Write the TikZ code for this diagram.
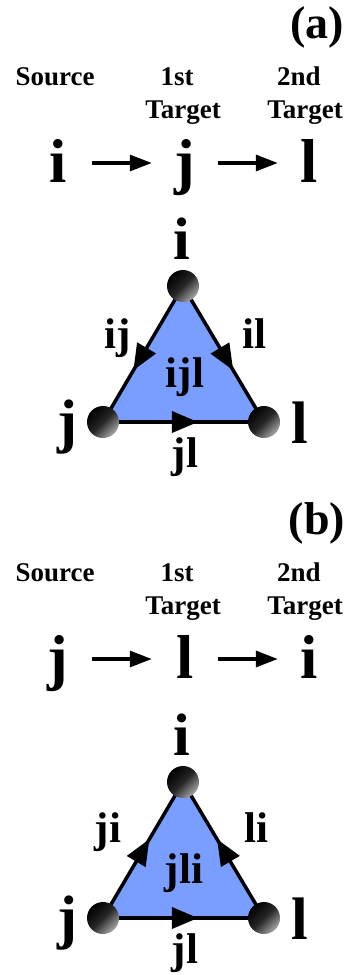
\documentclass[tikz,border=0pt]{standalone}
\usepackage{fontspec}
\setmainfont{Liberation Serif}
\usetikzlibrary{arrows.meta,decorations.markings,backgrounds}
\definecolor{triblue}{RGB}{122,158,255}
\begin{document}
\begin{tikzpicture}[x=1pt,y=-1pt,
  hdr/.style={font=\bfseries\fontsize{27}{27}\selectfont, anchor=base, inner sep=0},
  tag/.style={font=\bfseries\fontsize{46}{46}\selectfont, anchor=base, inner sep=0},
  rowl/.style={font=\bfseries\fontsize{62}{62}\selectfont, anchor=base, inner sep=0, text height=46pt, text depth=8pt},
  vlbl/.style={font=\bfseries\fontsize{60}{60}\selectfont, anchor=base, inner sep=0},
  elbl/.style={font=\bfseries\fontsize{43}{43}\selectfont, anchor=base, inner sep=0},
  rowarrow/.style={line width=3.2pt, -{Triangle[length=22pt,width=16pt]}},
  ball/.style={circle, inner sep=0, minimum size=32pt, top color=black, bottom color=black!35, middle color=black!85, shading angle=45},
  edge/.style={line width=3.5pt},
  midarrow/.style={postaction=decorate, decoration={markings, mark=at position #1 with {\arrow{Triangle[length=26pt,width=21pt]}}}}
]
\useasboundingbox (0,0) rectangle (355,975);

% ---------- (a) ----------
\node[tag] (taga) at (317,38) {(a)};
\node[hdr] (srca) at (55,85) {Source};
\node[hdr] (fsta) at (177,85) {1st};
\node[hdr] (fta) at (183,118) {Target};
\node[hdr] (snda) at (299,85) {2nd};
\node[hdr] (sta) at (305,118) {Target};
\node[rowl] (ra1) at (58,182) {i};
\node[rowl] (ra2) at (185,182) {j};
\node[rowl] (ra3) at (309,182) {l};
\draw[rowarrow, shorten <=25pt, shorten >=22.7pt] (ra1) -- (ra2);
\draw[rowarrow, shorten <=22.7pt, shorten >=22.4pt] (ra2) -- (ra3);

\node[ball] (ai) at (183,286) {};
\node[ball] (aj) at (103,422) {};
\node[ball] (al) at (264,422) {};
\begin{scope}[on background layer]
  \fill[triblue] (ai.center) -- (aj.center) -- (al.center) -- cycle;
  \draw[edge, midarrow=0.62] (ai.center) -- (aj.center);
  \draw[edge, midarrow=0.62] (ai.center) -- (al.center);
  \draw[edge, midarrow=0.59] (aj.center) -- (al.center);
\end{scope}
\node[vlbl] (vai) at (182,259) {i};
\node[vlbl] (vaj) at (67,441) {j};
\node[vlbl] (val) at (300,443) {l};
\node[elbl] (eaij) at (118,348) {ij};
\node[elbl] (eail) at (254,348) {il};
\node[elbl] (eaijl) at (185,387) {ijl};
\node[elbl] (eajl) at (185,467) {jl};

% ---------- (b) ----------
\node[tag] (tagb) at (317,534) {(b)};
\node[hdr] (srcb) at (55,581) {Source};
\node[hdr] (fstb) at (177,581) {1st};
\node[hdr] (ftb) at (183,614) {Target};
\node[hdr] (sndb) at (299,581) {2nd};
\node[hdr] (stb) at (305,614) {Target};
\node[rowl] (rb1) at (58,678) {j};
\node[rowl] (rb2) at (185,678) {l};
\node[rowl] (rb3) at (309,678) {i};
\draw[rowarrow, shorten <=23.7pt, shorten >=24.4pt] (rb1) -- (rb2);
\draw[rowarrow, shorten <=24.4pt, shorten >=22.4pt] (rb2) -- (rb3);

\node[ball] (bi) at (183,782) {};
\node[ball] (bj) at (103,918) {};
\node[ball] (bl) at (264,918) {};
\begin{scope}[on background layer]
  \fill[triblue] (bi.center) -- (bj.center) -- (bl.center) -- cycle;
  \draw[edge, midarrow=0.58] (bj.center) -- (bi.center);
  \draw[edge, midarrow=0.58] (bl.center) -- (bi.center);
  \draw[edge, midarrow=0.59] (bj.center) -- (bl.center);
\end{scope}
\node[vlbl] (vbi) at (182,755) {i};
\node[vlbl] (vbj) at (67,937) {j};
\node[vlbl] (vbl) at (300,939) {l};
\node[elbl] (ebji) at (108,842) {ji};
\node[elbl] (ebli) at (256,842) {li};
\node[elbl] (ebjli) at (184,883) {jli};
\node[elbl] (ebjl) at (185,963) {jl};
\end{tikzpicture}
\end{document}
